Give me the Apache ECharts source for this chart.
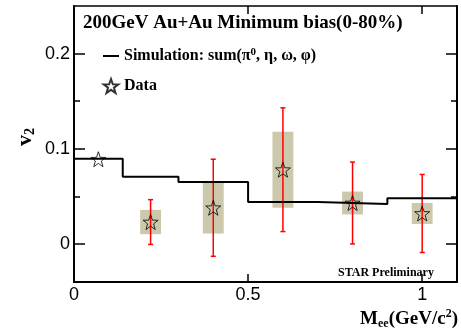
<!DOCTYPE html>
<html>
<head>
<meta charset="utf-8">
<script src="https://cdn.jsdelivr.net/npm/echarts@6/dist/echarts.min.js"></script>
<style>
  html, body { margin: 0; padding: 0; background: #fff; }
  #chart { width: 461px; height: 331px; }
</style>
</head>
<body>
<div id="chart"></div>
<script>
// simulation cocktail, drawn as a step histogram
const binEdges = [0, 0.14, 0.3, 0.5, 0.7, 0.9, 1.1];
const simV2 = [0.0895, 0.0705, 0.065, 0.044, 0.042, 0.048];

// measured points
const massValues = [0.07, 0.22, 0.4, 0.6, 0.8, 1.0];
const v2Values = [0.089, 0.023, 0.038, 0.078, 0.043, 0.032];
const statErrors = [0, 0.0235, 0.051, 0.065, 0.043, 0.041];
const sysErrors = [0, 0.0128, 0.027, 0.04, 0.012, 0.011];

// axis ticks
const xTicks = [0, 0.5, 1];
const xMajorTicks = [0.5, 1];
const yTicks = [0, 0.1, 0.2];
const yMinorTicks = [0.05, 0.15];

const serif = 'Liberation Serif';
const sans = 'Liberation Sans';
const boxHalfWidth = 0.03;
const starPath = 'path://M50,0 L61.8,33.8 L97.6,34.5 L69,56.2 L79.4,90.5 L50,70 L20.6,90.5 L31,56.2 L2.4,34.5 L38.2,33.8 Z';

const stepData = binEdges.map((e, i) => [e, simV2[Math.min(i, simV2.length - 1)]]);
const points = massValues.map((m, i) => [m, v2Values[i], statErrors[i], sysErrors[i]]);

const chart = echarts.init(document.getElementById('chart'));

const yAxisCfg = (position, ticks, len, withLine, withLabel) => ({
  type: 'value',
  position: position,
  min: -0.04,
  max: 0.25,
  splitLine: { show: false },
  axisLine: { show: withLine, lineStyle: { color: '#000', width: 2 } },
  axisTick: { show: true, inside: true, length: len, customValues: ticks, lineStyle: { color: '#000', width: 1.5 } },
  axisLabel: {
    show: withLabel,
    customValues: yTicks,
    margin: 4,
    color: '#000',
    fontFamily: sans,
    fontSize: 18,
    formatter: (v) => String(Math.round(v * 10) / 10)
  }
})

const xAxisCfg = (position, withLabel, lineWidth) => ({
  type: 'value',
  position: position,
  min: 0,
  max: 1.1,
  splitLine: { show: false },
  axisLine: { show: true, onZero: false, lineStyle: { color: '#000', width: lineWidth } },
  axisTick: { show: true, inside: true, length: 8, customValues: xMajorTicks, lineStyle: { color: '#000', width: 1.5 } },
  axisLabel: {
    show: withLabel,
    customValues: xTicks,
    margin: 4,
    color: '#000',
    fontFamily: sans,
    fontSize: 18,
    formatter: (v) => String(v)
  }
})

const option = {
  animation: false,
  backgroundColor: '#fff',
  title: {
    text: '200GeV Au+Au Minimum bias(0-80%)',
    left: 83,
    top: 14,
    padding: 0,
    textStyle: { fontFamily: serif, fontWeight: 'bold', fontSize: 19, color: '#000' }
  },
  legend: {
    orient: 'vertical',
    left: 102,
    top: 47,
    padding: 0,
    itemWidth: 16,
    itemHeight: 14,
    itemGap: 14,
    data: [
      { name: 'sim', itemStyle: { color: 'rgba(0,0,0,0)', borderWidth: 0 } },
      { name: 'data' }
    ],
    formatter: (name) => name === 'sim'
      ? '{t|Simulation: sum(π}{sup|0}{t|, η, ω, φ)}'
      : '{t|Data}',
    textStyle: {
      color: '#000',
      rich: {
        t: { fontFamily: serif, fontWeight: 'bold', fontSize: 16, color: '#000', lineHeight: 18 },
        sup: { fontFamily: serif, fontWeight: 'bold', fontSize: 11, color: '#000', verticalAlign: 'top', lineHeight: 11 }
      }
    }
  },
  grid: { left: 74, right: 4, top: 6, bottom: 49 },
  xAxis: [xAxisCfg('bottom', true, 2), xAxisCfg('top', false, 1.5)],
  yAxis: [
    yAxisCfg('left', yTicks, 11, true, true),
    yAxisCfg('left', yMinorTicks, 6, false, false),
    yAxisCfg('right', yTicks, 11, true, false),
    yAxisCfg('right', yMinorTicks, 6, false, false)
  ],
  graphic: [
    {
      type: 'text',
      x: 25,
      y: 137,
      rotation: Math.PI / 2,
      style: {
        text: '{v|v}{s|2}',
        align: 'center',
        verticalAlign: 'middle',
        rich: {
          v: { fontFamily: serif, fontWeight: 'bold', fontSize: 22, fill: '#000', lineHeight: 24 },
          s: { fontFamily: serif, fontWeight: 'bold', fontSize: 14, fill: '#000', verticalAlign: 'bottom', lineHeight: 14 }
        }
      }
    },
    {
      type: 'text',
      x: 458,
      y: 308,
      style: {
        text: '{b|M}{s|ee}{b|(GeV/c}{p|2}{b|)}',
        align: 'right',
        verticalAlign: 'top',
        rich: {
          b: { fontFamily: serif, fontWeight: 'bold', fontSize: 19, fill: '#000', lineHeight: 22 },
          s: { fontFamily: serif, fontWeight: 'bold', fontSize: 12, fill: '#000', verticalAlign: 'bottom', lineHeight: 12 },
          p: { fontFamily: serif, fontWeight: 'bold', fontSize: 12, fill: '#000', verticalAlign: 'top', lineHeight: 12 }
        }
      }
    },
    {
      type: 'text',
      x: 338,
      y: 267,
      style: { text: 'STAR Preliminary', font: 'bold 12px "Liberation Serif"', fill: '#000' }
    }
  ],
  series: [
    {
      type: 'custom',
      name: 'sys',
      z: 1,
      data: points,
      renderItem: (params, api) => {
        const x = api.value(0), y = api.value(1), s = api.value(3);
        if (!s) return null;
        const p0 = api.coord([x - boxHalfWidth, y + s]);
        const p1 = api.coord([x + boxHalfWidth, y - s]);
        return {
          type: 'rect',
          shape: { x: p0[0], y: p0[1], width: p1[0] - p0[0], height: p1[1] - p0[1] },
          style: { fill: '#ccc8ac' }
        };
      }
    },
    {
      type: 'custom',
      name: 'stat',
      z: 2,
      data: points,
      renderItem: (params, api) => {
        const x = api.value(0), y = api.value(1), e = api.value(2);
        if (!e) return null;
        const top = api.coord([x, y + e]);
        const bot = api.coord([x, y - e]);
        const st = { stroke: '#ff0000', lineWidth: 1.5 };
        return {
          type: 'group',
          children: [
            { type: 'line', shape: { x1: top[0], y1: top[1], x2: bot[0], y2: bot[1] }, style: st },
            { type: 'line', shape: { x1: top[0] - 2.5, y1: top[1], x2: top[0] + 2.5, y2: top[1] }, style: st },
            { type: 'line', shape: { x1: bot[0] - 2.5, y1: bot[1], x2: bot[0] + 2.5, y2: bot[1] }, style: st }
          ]
        };
      }
    },
    {
      type: 'line',
      name: 'sim',
      z: 3,
      step: 'end',
      symbol: 'none',
      data: stepData,
      lineStyle: { color: '#000', width: 2 },
      itemStyle: { color: '#000' }
    },
    {
      type: 'scatter',
      name: 'data',
      z: 4,
      symbol: starPath,
      symbolSize: 15,
      data: points.map((p) => [p[0], p[1]]),
      itemStyle: { color: 'rgba(255,255,255,0)', borderColor: '#000', borderWidth: 1 }
    }
  ]
};

chart.setOption(option);
</script>
</body>
</html>
